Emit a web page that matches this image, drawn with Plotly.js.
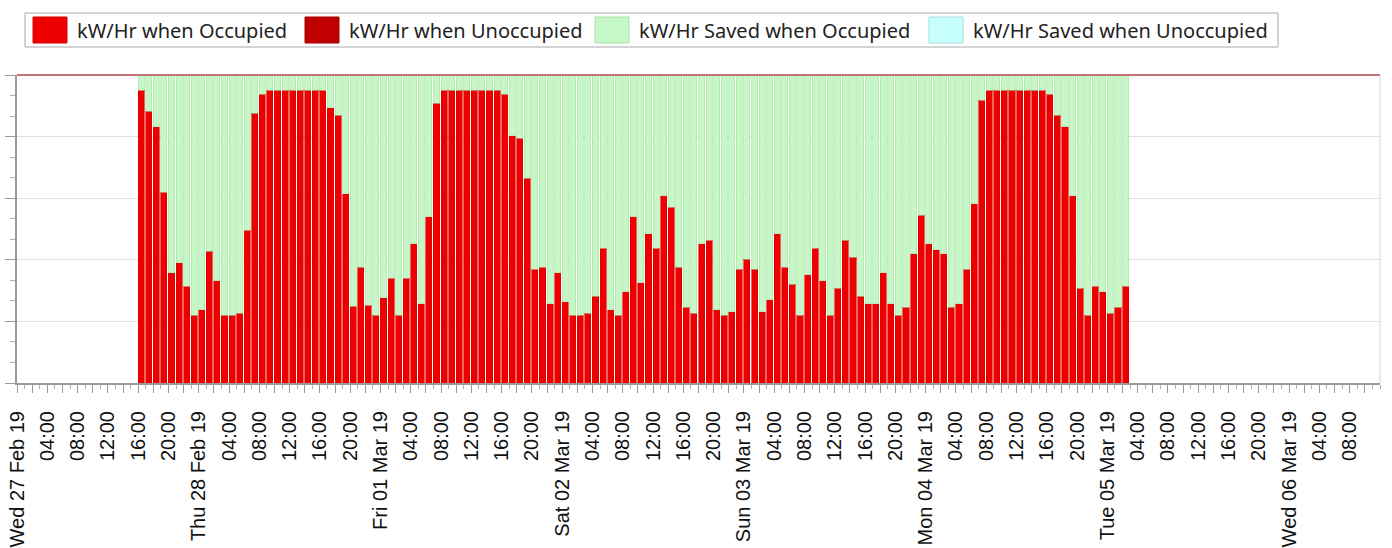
<!DOCTYPE html>
<html><head><meta charset="utf-8">
<script src="https://cdn.plot.ly/plotly-3.0.1.min.js"></script>
<style>html,body{margin:0;padding:0;background:#fff;} #chart{width:1392px;height:548px;}</style>
</head><body><div id="chart"></div>
<script>
// ---------------- data ----------------
const seriesNames = ['kW/Hr when Occupied', 'kW/Hr when Unoccupied', 'kW/Hr Saved when Occupied', 'kW/Hr Saved when Unoccupied'];
const firstHour = [2019, 1, 27, 16]; // Wed 27 Feb 2019 16:00, one bar per hour
const usedOccupied = [
  4.75, 4.41, 4.16, 3.10, 1.79, 1.95, 1.57, 1.10, 1.19, 2.14, 1.66, 1.10, 1.10, 1.13, 2.48, 4.38, 4.69,
  4.75, 4.75, 4.75, 4.75, 4.75, 4.75, 4.75, 4.75,
  4.47, 4.35, 3.07, 1.25, 1.88, 1.26, 1.10, 1.38, 1.70, 1.10, 1.70, 2.26, 1.29, 2.70, 4.54,
  4.75, 4.75, 4.75, 4.75, 4.75, 4.75, 4.75, 4.75,
  4.69, 4.01, 3.97, 3.32, 1.85, 1.88, 1.29, 1.79, 1.32, 1.10, 1.10, 1.13, 1.41, 2.19, 1.19, 1.10,
  1.48, 2.70, 1.63, 2.42, 2.19, 3.04, 2.85, 1.88, 1.23, 1.13, 2.26, 2.32, 1.19, 1.10, 1.16, 1.85,
  2.01, 1.85, 1.16, 1.35, 2.42, 1.88, 1.60, 1.10, 1.76, 2.19, 1.66, 1.10, 1.54, 2.32, 2.04, 1.41,
  1.29, 1.29, 1.79, 1.29, 1.10, 1.23, 2.10, 2.72, 2.26, 2.16, 2.10, 1.23, 1.29, 1.85, 2.91, 4.59,
  4.75, 4.75, 4.75, 4.75, 4.75, 4.75, 4.75, 4.75,
  4.69, 4.35, 4.16, 3.04, 1.54, 1.10, 1.57, 1.48, 1.13, 1.23, 1.57
];
const usedUnoccupied = [];
const savedOccupied = [
  0.25, 0.59, 0.84, 1.90, 3.21, 3.05, 3.43, 3.90, 3.81, 2.86, 3.34, 3.90, 3.90, 3.87, 2.52, 0.62, 0.31,
  0.25, 0.25, 0.25, 0.25, 0.25, 0.25, 0.25, 0.25,
  0.53, 0.65, 1.93, 3.75, 3.12, 3.74, 3.90, 3.62, 3.30, 3.90, 3.30, 2.74, 3.71, 2.30, 0.46,
  0.25, 0.25, 0.25, 0.25, 0.25, 0.25, 0.25, 0.25,
  0.31, 0.99, 1.03, 1.68, 3.15, 3.12, 3.71, 3.21, 3.68, 3.90, 3.90, 3.87, 3.59, 2.81, 3.81, 3.90,
  3.52, 2.30, 3.37, 2.58, 2.81, 1.96, 2.15, 3.12, 3.77, 3.87, 2.74, 2.68, 3.81, 3.90, 3.84, 3.15,
  2.99, 3.15, 3.84, 3.65, 2.58, 3.12, 3.40, 3.90, 3.24, 2.81, 3.34, 3.90, 3.46, 2.68, 2.96, 3.59,
  3.71, 3.71, 3.21, 3.71, 3.90, 3.77, 2.90, 2.28, 2.74, 2.84, 2.90, 3.77, 3.71, 3.15, 2.09, 0.41,
  0.25, 0.25, 0.25, 0.25, 0.25, 0.25, 0.25, 0.25,
  0.31, 0.65, 0.84, 1.96, 3.46, 3.90, 3.43, 3.52, 3.87, 3.77, 3.43
];
const savedUnoccupied = [];
const dayLabels = ['Wed 27 Feb 19', 'Thu 28 Feb 19', 'Fri 01 Mar 19', 'Sat 02 Mar 19', 'Sun 03 Mar 19', 'Mon 04 Mar 19', 'Tue 05 Mar 19', 'Wed 06 Mar 19'];
const hourLabels = ['04:00', '08:00', '12:00', '16:00', '20:00'];

// ---------------- helpers ----------------
const H = 3600000;
function pad(n) { return (n < 10 ? '0' : '') + n; }
function fmt(ms) {
  const d = new Date(ms);
  return d.getUTCFullYear() + '-' + pad(d.getUTCMonth() + 1) + '-' + pad(d.getUTCDate()) + ' ' + pad(d.getUTCHours()) + ':' + pad(d.getUTCMinutes()) + ':00';
}
const t0 = Date.UTC(firstHour[0], firstHour[1], firstHour[2], firstHour[3]);
const times = usedOccupied.map((_, i) => fmt(t0 + i * H));
const timesU = usedUnoccupied.map((_, i) => fmt(t0 + i * H));
const axisStart = Date.UTC(2019, 1, 27, 0);
const axisEnd = axisStart + 180 * H;

const colors = ['#ee0000', '#c00000', '#c6f8c6', '#c8ffff'];
const edge = ['#d80000', '#a80000', '#a9dfa9', '#a6dede'];
const barW = 0.8 * H;

function barTrace(x, y, k) {
  return {
    type: 'bar', x: x, y: y, name: seriesNames[k], offset: 0, width: barW,
    marker: { color: colors[k], line: { color: edge[k], width: 0.6 } },
    hoverinfo: 'x+y+name'
  };
}
const data = [
  barTrace(times, usedOccupied, 0),
  barTrace(timesU, usedUnoccupied, 1),
  barTrace(times, savedOccupied, 2),
  barTrace(timesU, savedUnoccupied, 3)
];

// ticks: major every 2h, labelled every 4h
const tickvals = [], ticktext = [];
for (let h = 0; h < 180; h += 2) {
  tickvals.push(fmt(axisStart + h * H));
  const hh = h % 24;
  if (hh === 0) ticktext.push(dayLabels[h / 24]);
  else if (hh % 4 === 0) ticktext.push(hourLabels[hh / 4 - 1]);
  else ticktext.push('');
}

// ---------------- layout geometry (pixels) ----------------
const W = 1392, HT = 548;
const L = 17, R = 12, T = 75, B = 165;
const pw = W - L - R, ph = HT - T - B;
const px = x => (x - L) / pw;
const py = y => (HT - B - y) / ph;

const shapes = [
  // top red line and right border
  { type: 'line', xref: 'paper', yref: 'paper', x0: 0, x1: 1, y0: 1, y1: 1, line: { color: '#c47474', width: 2 } },
  { type: 'line', xref: 'paper', yref: 'paper', x0: 1, x1: 1, y0: 0, y1: 1, line: { color: '#d4d4d4', width: 1 } },
  // legend frame
  { type: 'rect', xref: 'paper', yref: 'paper', x0: px(25), x1: px(1278), y0: py(47), y1: py(13), line: { color: '#a8a8a8', width: 1 }, fillcolor: '#ffffff', layer: 'above' }
];
const annotations = [];
const swX = [33, 305, 595, 929];
swX.forEach((sx, k) => {
  shapes.push({ type: 'rect', xref: 'paper', yref: 'paper', x0: px(sx), x1: px(sx + 34), y0: py(43), y1: py(17),
    fillcolor: colors[k], line: { color: edge[k], width: 1 }, layer: 'above' });
  annotations.push({ xref: 'paper', yref: 'paper', x: px(sx + 42), y: py(30), xanchor: 'left', yanchor: 'middle',
    text: seriesNames[k], showarrow: false, font: { family: 'Noto Sans, Open Sans, sans-serif', size: 20, color: '#222' } });
});

const layout = {
  width: W, height: HT,
  margin: { l: L, r: R, t: T, b: B, pad: 0 },
  paper_bgcolor: '#ffffff', plot_bgcolor: '#ffffff',
  barmode: 'stack',
  showlegend: false,
  xaxis: {
    type: 'date', range: [fmt(axisStart), fmt(axisEnd)],
    tickmode: 'array', tickvals: tickvals, ticktext: ticktext,
    tickangle: -90, ticks: 'outside', ticklen: 8, tickcolor: '#9a9a9a', tickwidth: 1,
    ticklabelstandoff: 10,
    minor: { dtick: H, tick0: fmt(axisStart), ticks: 'outside', ticklen: 4, tickcolor: '#b0b0b0', showgrid: false },
    showgrid: false, zeroline: false,
    showline: true, linecolor: '#9a9a9a', linewidth: 2,
    tickfont: { family: 'Liberation Sans, Arial, sans-serif', size: 20, color: '#111' },
    fixedrange: true
  },
  yaxis: {
    range: [0, 5], tickmode: 'linear', tick0: 0, dtick: 1,
    showticklabels: false, ticks: 'outside', ticklen: 10, tickcolor: '#9a9a9a',
    minor: { dtick: 1 / 3, ticks: 'outside', ticklen: 5, tickcolor: '#b0b0b0', showgrid: false },
    showgrid: true, gridcolor: '#e0e0e0', gridwidth: 1, zeroline: false,
    showline: true, linecolor: '#9a9a9a', linewidth: 2,
    fixedrange: true
  },
  shapes: shapes,
  annotations: annotations
};

Plotly.newPlot('chart', data, layout, { displayModeBar: false, staticPlot: true });
</script>
</body></html>
